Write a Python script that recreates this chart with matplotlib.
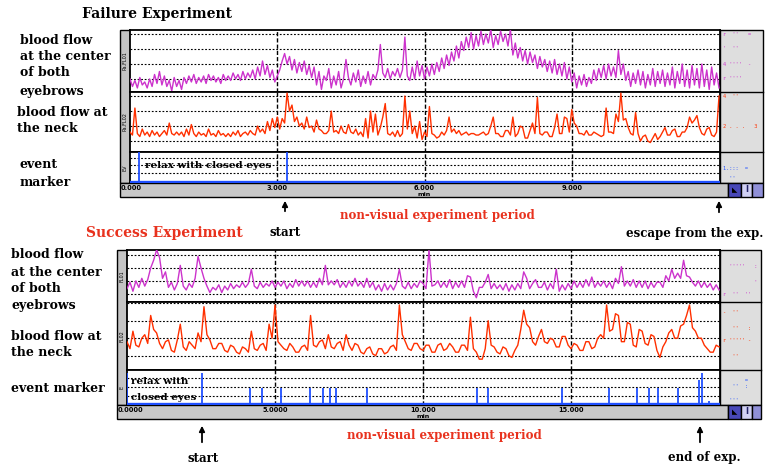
import numpy as np
import matplotlib.pyplot as plt
from matplotlib.patches import Rectangle

W, H = 766, 467

# ---- failure experiment: one sample every 0.05 min ----
fail_brow = [1.0, 0.5, 0.9, 0.4, 1.1, 0.6, 0.8, 0.4, 1.0, 0.5, 1.3, 0.7, 1.5, 0.6, 1.2, 0.5, 0.9, 0.2, 1.1, 0.5,
             0.9, 0.3, 1.1, 0.7, 1.2, 0.8, 1.3, 0.7, 1.1, 0.8, 1.2, 0.7, 1.3, 0.9, 1.2, 0.8, 1.1, 0.7, 1.3, 0.9,
             1.2, 0.9, 1.4, 1.0, 1.3, 0.9, 1.5, 1.0, 1.4, 1.1, 1.6, 1.0, 1.8, 1.2, 2.2, 1.3, 1.9, 1.1, 1.6, 0.8,
             1.2, 1.6, 2.2, 2.7, 2.0, 2.5, 1.6, 2.3, 1.4, 2.1, 1.5, 2.2, 1.3, 1.9, 1.1, 1.8, 0.6, 1.5, 0.3, 1.2,
             0.9, 1.7, 0.4, 1.2, 0.6, 1.5, 0.4, 1.0, 2.3, 1.1, 0.6, 1.4, 0.8, 1.6, 0.5, 1.2, 0.7, 1.5, 0.6, 1.3,
             1.0, 1.6, 3.3, 1.4, 1.1, 1.7, 1.0, 1.5, 1.2, 1.7, 1.1, 1.6, 3.8, 1.2, 0.9, 1.8, 1.0, 2.2, 1.2, 1.9,
             1.0, 1.8, 1.2, 2.0, 1.3, 2.1, 1.5, 2.4, 1.7, 2.6, 1.9, 2.8, 2.2, 3.2, 2.4, 3.5, 2.9, 3.8, 3.1, 4.1,
             3.0, 3.9, 3.2, 4.2, 3.3, 4.0, 3.4, 4.3, 3.1, 3.9, 3.3, 4.2, 3.5, 4.0, 3.2, 4.3, 2.6, 3.4, 2.4, 3.1,
             2.2, 2.9, 2.0, 2.8, 2.1, 2.6, 1.7, 2.5, 1.8, 2.3, 1.5, 2.2, 1.4, 2.3, 1.3, 2.0, 1.2, 2.1, 1.0, 1.8,
             0.8, 1.4, 0.4, 1.2, 0.6, 1.3, 0.5, 1.1, 0.7, 1.6, 0.9, 1.7, 1.1, 1.9, 1.0, 2.0, 1.2, 1.8, 1.1, 2.9,
             1.3, 2.0, 0.9, 1.5, 0.5, 1.4, 0.7, 1.6, 0.6, 1.5, 0.4, 1.3, 0.6, 1.7, 0.5, 1.5, 0.7, 1.6, 0.5, 1.4,
             0.6, 1.8, 0.4, 1.5, 0.7, 2.0, 0.5, 1.6, 0.4, 1.9, 0.6, 1.7, 0.4, 2.0, 0.5, 1.6, 0.3, 1.8, 0.6, 1.4,
             0.4]
fail_neck = [1.6, 1.4, 3.2, 1.5, 1.3, 1.8, 1.4, 1.6, 1.3, 1.7, 1.4, 1.6, 1.3, 1.5, 1.7, 1.4, 2.2, 1.5, 1.4, 1.6,
             1.4, 1.6, 1.3, 1.8, 1.4, 2.1, 1.5, 1.3, 1.6, 1.4, 1.5, 1.3, 1.8, 1.4, 1.5, 1.3, 1.7, 1.4, 1.5, 1.3,
             1.5, 1.3, 1.6, 1.4, 1.7, 1.3, 1.5, 1.6, 1.4, 1.7, 1.5, 1.4, 2.0, 1.6, 1.8, 1.5, 2.3, 1.7, 2.5, 1.9,
             2.6, 1.8, 2.5, 2.2, 4.2, 3.0, 3.4, 2.3, 2.6, 2.0, 2.2, 1.8, 2.6, 1.9, 2.0, 1.6, 2.4, 1.8, 1.7, 1.5,
             1.5, 1.7, 3.0, 1.6, 1.7, 1.5, 2.0, 1.6, 1.5, 2.1, 1.6, 1.5, 1.8, 1.4, 1.6, 1.3, 2.5, 1.2, 3.0, 1.6,
             2.8, 1.4, 1.9, 2.6, 3.5, 1.5, 1.4, 1.6, 1.3, 1.7, 1.3, 1.5, 4.0, 1.8, 3.0, 1.5, 2.0, 1.2, 2.3, 1.1,
             1.6, 1.3, 3.3, 1.5, 1.4, 1.2, 1.3, 1.6, 1.4, 1.7, 2.6, 1.6, 1.8, 1.5, 1.7, 1.4, 1.5, 1.6, 1.4, 1.5,
             1.5, 1.4, 1.4, 1.5, 1.6, 1.4, 1.5, 2.0, 2.6, 1.5, 1.5, 1.3, 1.3, 1.7, 1.7, 1.4, 2.6, 1.3, 1.5, 2.0,
             1.9, 1.2, 1.2, 1.7, 2.2, 1.5, 3.9, 1.5, 1.4, 1.6, 1.6, 1.3, 1.3, 1.9, 2.8, 1.5, 1.5, 2.6, 2.5, 1.6,
             3.1, 2.2, 2.0, 1.5, 1.5, 1.4, 1.7, 1.4, 1.4, 1.6, 1.5, 1.4, 1.3, 1.4, 3.2, 1.6, 1.6, 1.5, 2.8, 2.3,
             4.2, 2.4, 2.5, 1.9, 1.5, 1.4, 2.9, 1.5, 1.0, 1.3, 1.4, 1.0, 0.9, 1.2, 1.5, 1.1, 1.3, 1.6, 1.9, 1.4,
             1.4, 1.7, 1.8, 1.3, 1.3, 1.6, 1.6, 1.9, 2.6, 2.2, 2.4, 2.7, 1.9, 1.5, 1.4, 1.8, 1.9, 1.4, 1.3, 1.6,
             4.0]
fail_events = [0.18, 3.2]
fail_ticks = [0, 3, 6, 9]
fail_tick_labels = ['0.000', '3.000', '6.000', '9.000']

# ---- success experiment: one sample every 0.1 min ----
succ_brow = [1.4, 1.9, 1.2, 2.0, 1.5, 2.2, 1.6, 2.1, 3.0, 3.6,
             4.4, 3.8, 2.2, 2.7, 1.5, 1.9, 1.3, 1.8, 3.2, 1.6,
             1.3, 1.8, 1.5, 2.2, 3.9, 3.0, 2.2, 1.6, 1.1, 1.5,
             1.3, 1.7, 1.1, 1.6, 1.3, 1.8, 1.4, 1.7, 1.5, 1.9,
             1.5, 1.8, 2.9, 1.6, 1.4, 1.9, 1.5, 1.8, 1.6, 2.0,
             1.5, 1.9, 1.6, 2.0, 1.4, 1.8, 1.5, 2.1, 1.6, 2.0,
             1.6, 2.0, 1.5, 1.9, 1.5, 2.2, 1.7, 3.2, 1.7, 2.0,
             1.7, 2.1, 1.5, 1.9, 1.5, 2.0, 1.6, 2.2, 1.6, 1.9,
             1.5, 2.2, 1.5, 1.9, 1.3, 1.7, 1.2, 1.8, 1.3, 1.7,
             1.3, 1.8, 2.9, 1.6, 1.4, 1.9, 1.4, 1.8, 1.5, 2.0,
             1.8, 1.4, 4.4, 1.6, 1.7, 2.0, 1.5, 1.9, 1.5, 2.1,
             1.4, 1.9, 1.5, 2.0, 1.5, 2.4, 2.3, 1.2, 0.7, 1.5,
             1.5, 1.9, 2.5, 1.4, 1.8, 1.4, 1.7, 1.3, 1.8, 1.2,
             1.7, 1.3, 1.8, 1.4, 2.7, 2.2, 1.4, 1.8, 2.1, 1.5,
             1.5, 1.9, 1.3, 1.8, 1.4, 2.9, 1.2, 1.7, 1.3, 1.8,
             1.4, 2.0, 1.5, 1.9, 1.5, 2.1, 1.6, 2.3, 1.5, 1.9,
             1.6, 2.0, 1.5, 1.9, 1.4, 2.2, 1.8, 3.1, 1.6, 2.0,
             1.6, 2.1, 1.5, 2.0, 1.5, 2.0, 1.4, 1.9, 1.5, 1.9,
             1.9, 1.5, 2.4, 2.0, 2.9, 2.2, 2.6, 2.2, 3.6, 2.4,
             2.3, 1.9, 1.6, 2.0, 1.5, 1.9, 1.5, 1.8, 1.3, 1.7,
             1.3]
succ_neck = [1.8, 1.4, 2.4, 1.6, 1.5, 2.0, 2.2, 1.7, 3.3, 2.5,
             2.3, 1.7, 1.4, 1.8, 1.9, 1.3, 1.2, 1.9, 2.8, 1.5,
             1.3, 1.8, 1.6, 1.4, 2.3, 1.8, 3.8, 2.2, 1.9, 1.4,
             1.4, 1.7, 1.7, 1.3, 1.2, 1.6, 1.5, 1.2, 1.1, 1.5,
             1.4, 1.2, 2.4, 1.4, 1.3, 1.6, 1.7, 1.3, 2.8, 2.0,
             3.9, 1.8, 1.6, 1.4, 1.3, 1.7, 1.5, 1.2, 1.2, 1.5,
             1.6, 1.3, 3.3, 1.6, 1.5, 1.8, 1.9, 1.4, 2.2, 1.5,
             1.4, 1.7, 1.8, 1.3, 2.2, 1.6, 1.3, 1.7, 1.6, 1.2,
             1.1, 1.4, 1.5, 1.1, 1.0, 1.4, 1.4, 1.1, 1.2, 1.5,
             1.6, 1.3, 3.9, 2.2, 1.8, 1.4, 1.3, 1.7, 1.7, 1.4,
             1.3, 1.6, 1.6, 1.2, 1.2, 1.6, 1.7, 1.3, 1.4, 1.7,
             1.5, 1.2, 1.2, 1.6, 1.6, 1.3, 3.2, 1.4, 1.2, 0.8,
             0.8, 1.4, 3.0, 1.6, 1.5, 1.2, 1.1, 1.5, 1.4, 1.0,
             0.9, 1.3, 1.6, 2.5, 3.6, 2.8, 2.6, 1.8, 1.6, 2.1,
             2.5, 1.8, 1.7, 2.0, 1.9, 1.5, 1.5, 2.1, 2.1, 1.6,
             1.4, 1.7, 1.6, 1.3, 1.3, 1.8, 1.8, 1.4, 1.5, 2.0,
             2.2, 2.0, 3.9, 2.4, 2.5, 3.4, 3.3, 1.8, 1.8, 2.9,
             2.8, 1.6, 1.5, 2.5, 2.4, 1.7, 1.6, 2.2, 2.1, 1.3,
             0.9, 1.5, 1.8, 2.3, 2.5, 2.0, 2.0, 2.7, 2.8, 3.3,
             3.9, 2.6, 2.4, 2.0, 2.0, 1.6, 1.4, 1.2, 1.2, 1.6,
             1.5]
succ_events = [0.0, 2.55, 4.17, 4.55, 5.21, 6.18, 6.63, 6.86, 7.06, 8.12,
               11.83, 12.2, 14.69, 16.28, 17.22, 17.64, 17.95, 18.6,
               19.33, 19.41, 19.67]
succ_event_h = [0.91, 0.91, 0.49, 0.49, 0.49, 0.49, 0.49, 0.49, 0.49, 0.49,
                0.49, 0.49, 0.49, 0.49, 0.49, 0.49, 0.49, 0.49,
                0.72, 0.91, 0.12]
succ_ticks = [0, 5, 10, 15]
succ_tick_labels = ['0.0000', '5.0000', '10.000', '15.000']

MAGENTA = '#cc33cc'
RED = '#ff3000'
BLUE = '#1f4fff'
TXT_RED = '#e8321e'
SERIF = 'DejaVu Serif'

fig = plt.figure(figsize=(7.66, 4.67), dpi=100)
bg = fig.add_axes([0, 0, 1, 1])
bg.set_xlim(0, W)
bg.set_ylim(H, 0)
bg.axis('off')


def px_axes(x0, y0, x1, y1):
    ax = fig.add_axes([x0 / W, 1 - y1 / H, (x1 - x0) / W, (y1 - y0) / H])
    ax.set_xticks([])
    ax.set_yticks([])
    for s in ax.spines.values():
        s.set_linewidth(1.3)
    return ax


def box(x0, y0, x1, y1, color, lw=1.0):
    bg.add_patch(Rectangle((x0, y0), x1 - x0, y1 - y0, facecolor=color,
                           edgecolor='black', linewidth=lw))


def draw_panel(step, brow, neck, events, ev_h, ticks, tick_labels, g):
    left, strip, right, pr = g['left'], g['strip'], g['right'], g['pr']
    r0, r1, r2, r3 = g['rows']
    tmax = g['tmax']

    # gray frame parts
    box(left, r0, strip, r3, '#c4c4c4')
    box(right, r0, pr, r3, '#dedede')
    bg.plot([right, pr], [r1, r1], color='k', lw=1.0)
    bg.plot([right, pr], [r2, r2], color='k', lw=1.0)
    box(left, r3, g['btn'], g['bot'], '#c8c8c8')
    box(g['btn'], r3, g['btn'] + 13, g['bot'], '#4848b8')
    box(g['btn'] + 13, r3, g['btn'] + 24, g['bot'], '#d0d0f4')
    box(g['btn'] + 24, r3, pr, g['bot'], '#9090d8')
    bg.text(g['btn'] + 6.5, (r3 + g['bot']) / 2, '\u25e3', color='k',
            fontsize=5, ha='center', va='center')
    bg.text(g['btn'] + 18.5, (r3 + g['bot']) / 2, 'I', color='#222266',
            fontsize=6, fontweight='bold', ha='center', va='center')

    # tiny channel names in the left strip
    for (ya, yb), name in zip([(r0, r1), (r1, r2), (r2, r3)], g['names']):
        bg.text((left + strip) / 2, (ya + yb) / 2, name, rotation=90,
                fontsize=3.5, ha='center', va='center')

    # scale marks in the right panel
    for y, s, c in g['scale']:
        bg.text(right + 3, y, s, color=c, fontsize=3.8, va='center',
                family='DejaVu Sans Mono')

    # tick labels in the bottom strip
    pxu = (right - strip) / tmax
    for i, (tk, lab) in enumerate(zip(ticks, tick_labels)):
        x = strip + tk * pxu
        bg.text(x if i else left + 1, r3 + 5, lab, fontsize=4.8,
                fontweight='bold', ha='center' if i else 'left',
                va='center')
    bg.text(strip + ticks[2] * pxu, r3 + 11, g['unit'], fontsize=4.5,
            fontweight='bold', ha='center', va='center')

    rows = [(r0, r1, brow, MAGENTA, g['ylim_brow']),
            (r1, r2, neck, RED, g['ylim_neck'])]
    for ya, yb, vals, col, yl in rows:
        t = np.arange(len(vals)) * step
        ax = px_axes(strip, ya, right, yb)
        for v in [1, 2, 3, 4]:
            ax.axhline(v, color='k', ls=(0, (1.6, 1.6)), lw=0.8, zorder=1)
        for tk in ticks[1:]:
            ax.axvline(tk, color='k', ls=(0, (3, 1.5)), lw=1.0, zorder=1)
        ax.plot(t, vals, color=col, lw=1.0, zorder=3)
        ax.set_xlim(0, tmax)
        ax.set_ylim(*yl)

    ax = px_axes(strip, r2, right, r3)
    for v in g['ev_grid']:
        ax.axhline(v, color='k', ls=(0, (1.6, 1.6)), lw=0.8, zorder=1)
    for tk in ticks[1:]:
        ax.axvline(tk, color='k', ls=(0, (3, 1.5)), lw=1.0, zorder=1)
    ax.vlines(events, 0.04, ev_h, color=BLUE, lw=1.3, zorder=3)
    ax.axhline(0.04, color=BLUE, lw=2.4, zorder=3)
    ax.set_xlim(0, tmax)
    ax.set_ylim(0, 1)
    return ax


fail_geo = dict(left=120, strip=130, right=720, pr=763, rows=[30, 92, 152, 183],
                bot=197, btn=728, tmax=12.02, unit='min',
                ylim_brow=(0.13, 4.27), ylim_neck=(0.27, 4.27),
                ev_grid=[0.32, 0.57, 0.81], names=['Pa.FL01', 'Pa.FL02', 'EV'],
                scale=[(34, "r  ''   =", MAGENTA), (49, "'  ''", MAGENTA),
                       (64, "4 ''''  -", MAGENTA), (79, "r ''''", MAGENTA),
                       (96, "4  ''", RED), (126, "2 . . .   3", RED),
                       (168, "1.:::  =", BLUE), (178, "  ''", BLUE)])
succ_geo = dict(left=117, strip=127, right=720, pr=761, rows=[250, 302, 370, 405],
                bot=419, btn=728, tmax=20.03, unit='min',
                ylim_brow=(0.37, 4.39), ylim_neck=(0.18, 4.07),
                ev_grid=[0.26, 0.51, 0.77], names=['FL01', 'FL02', 'E'],
                scale=[(266, "  '''''   :", MAGENTA), (282, "          '", MAGENTA),
                       (294, "r  ''  ''", MAGENTA), (312, "-  ''", RED),
                       (328, "   ''   :", RED), (340, "r ''''' -", RED),
                       (356, "   ''", RED), (380, "       =", BLUE),
                       (386, "   ''  :", BLUE), (400, "  '''", BLUE)])

ax_f = draw_panel(0.05, fail_brow, fail_neck, fail_events, [1.0, 1.0],
                  fail_ticks, fail_tick_labels, fail_geo)
ax_f.text(0.3, 0.55, 'relax with closed eyes', fontsize=7.5, family=SERIF,
          fontweight='bold', va='center', zorder=4)
ax_s = draw_panel(0.1, succ_brow, succ_neck, succ_events, succ_event_h,
                  succ_ticks, succ_tick_labels, succ_geo)
ax_s.text(0.12, 0.66, 'relax with', fontsize=7.5, family=SERIF,
          fontweight='bold', va='center', zorder=4)
ax_s.text(0.12, 0.2, 'closed eyes', fontsize=7.5, family=SERIF,
          fontweight='bold', va='center', zorder=4)

# titles and row labels
bg.text(157, 14, 'Failure Experiment', fontsize=10, family=SERIF,
        fontweight='bold', ha='center', va='center')
bg.text(164, 233, 'Success Experiment', fontsize=10, family=SERIF,
        fontweight='bold', color=TXT_RED, ha='center', va='center')

fail_lines = [('blood flow', 20, 40), ('at the center', 20, 57), ('of both', 20, 73),
              ('eyebrows', 20, 91), ('blood flow at', 17, 112), ('the neck', 17, 129),
              ('event', 20, 165), ('marker', 20, 182)]
succ_lines = [('blood flow', 11, 254), ('at the center', 11, 272), ('of both', 11, 288),
              ('eyebrows', 11, 306), ('blood flow at', 11, 336), ('the neck', 11, 353),
              ('event marker', 11, 389)]
for s, x, y in fail_lines + succ_lines:
    bg.text(x, y, s, fontsize=9, family=SERIF, fontweight='bold',
            ha='left', va='center')

# arrows and annotations below each panel
arrow = dict(arrowstyle='-|>', color='k', lw=1.3, mutation_scale=8)
for x, y0, y1 in [(285, 198, 214), (719, 198, 215), (202, 423, 445), (700, 423, 445)]:
    bg.annotate('', xy=(x, y0), xytext=(x, y1), arrowprops=arrow)
bg.text(285, 232, 'start', fontsize=8.5, family=SERIF, fontweight='bold',
        ha='center', va='center')
bg.text(695, 233, 'escape from the exp.', fontsize=8.5, family=SERIF,
        fontweight='bold', ha='center', va='center')
bg.text(203, 458, 'start', fontsize=8.5, family=SERIF, fontweight='bold',
        ha='center', va='center')
bg.text(704, 457, 'end of exp.', fontsize=8.5, family=SERIF, fontweight='bold',
        ha='center', va='center')
bg.text(437, 216, 'non-visual experiment period', fontsize=8.5, family=SERIF,
        fontweight='bold', color=TXT_RED, ha='center', va='center')
bg.text(444, 436, 'non-visual experiment period', fontsize=8.5, family=SERIF,
        fontweight='bold', color=TXT_RED, ha='center', va='center')

fig.savefig('out.png', dpi=100)
